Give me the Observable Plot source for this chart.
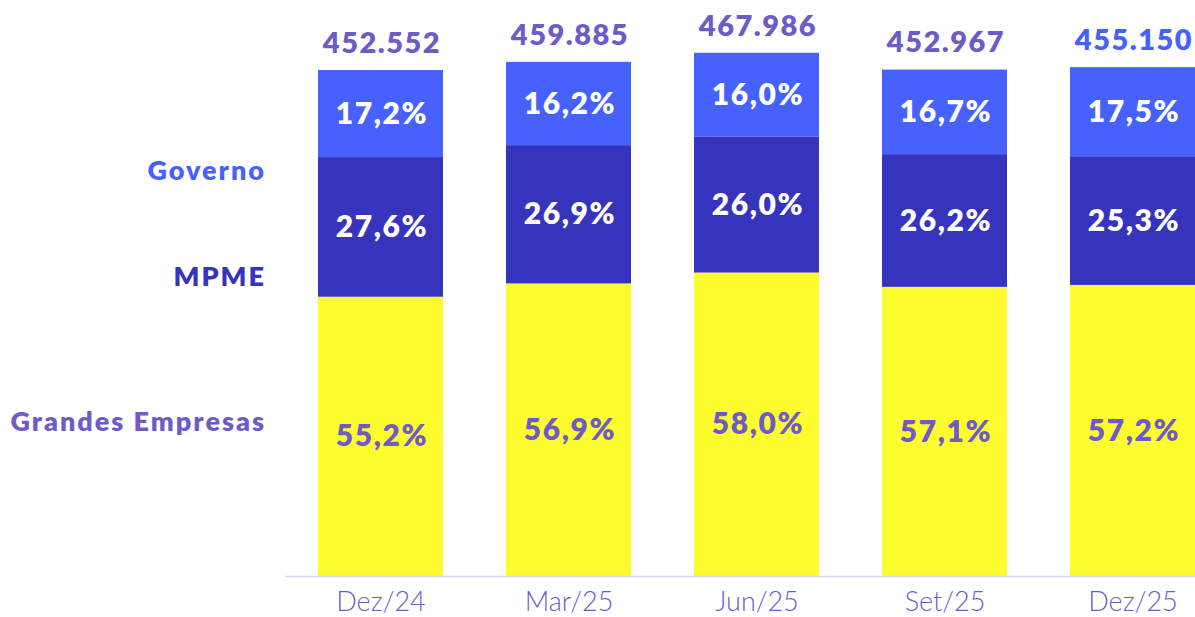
<!DOCTYPE html>
<html>
<head>
<meta charset="utf-8">
<script src="https://cdn.jsdelivr.net/npm/d3@7"></script>
<script src="https://cdn.jsdelivr.net/npm/@observablehq/plot@0.6"></script>
<style>
  html, body { margin: 0; padding: 0; background: #fff; overflow: hidden; }
  #chart { width: 1195px; height: 617px; overflow: hidden; }
  #chart svg { overflow: hidden; }
</style>
</head>
<body>
<div id="chart"></div>
<script>
const periods = ["Dez/24", "Mar/25", "Jun/25", "Set/25", "Dez/25"];
const totals = [452552, 459885, 467986, 452967, 455150];
const segments = ["Grandes Empresas", "MPME", "Governo"];
const pctGrandes = [55.2, 56.9, 58.0, 57.1, 57.2];
const pctMPME = [27.6, 26.9, 26.0, 26.2, 25.3];
const pctGoverno = [17.2, 16.2, 16.0, 16.7, 17.5];

const colors = { "Grandes Empresas": "#FCFC2E", "MPME": "#3634BC", "Governo": "#4761FF" };
const labelColors = { "Grandes Empresas": "#6F5BC8", "MPME": "#ffffff", "Governo": "#ffffff" };
const legendColors = { "Grandes Empresas": "#6F5BC8", "MPME": "#3634BC", "Governo": "#4761FF" };
const purple = "#6F5BC8";
const font = "Lato, 'Open Sans', sans-serif";

const pctBySeg = { "Grandes Empresas": pctGrandes, "MPME": pctMPME, "Governo": pctGoverno };
const fmtPct = v => v.toFixed(1).replace(".", ",") + "%";
const fmtTot = v => d3.format(",")(v).replace(/,/g, ".");

const rows = [];
periods.forEach((p, i) => {
  let base = 0;
  segments.forEach(s => {
    const v = totals[i] * pctBySeg[s][i] / 100;
    rows.push({ period: p, segment: s, value: v, pct: pctBySeg[s][i], y1: base, y2: base + v, idx: i });
    base += v;
  });
});
const totalRows = periods.map((p, i) => ({ period: p, total: totals[i], last: i === periods.length - 1 }));

// legend labels beside the first bar, offset from that bar's segment middles
const legendOffsets = { "Governo": 57, "MPME": 50, "Grandes Empresas": -14 };
const legendMarks = segments.map(s => Plot.text(rows.filter(r => r.idx === 0 && r.segment === s), {
  x: "period", y: d => (d.y1 + d.y2) / 2, text: "segment",
  dx: -115, dy: legendOffsets[s], textAnchor: "end",
  fill: legendColors[s], fontSize: 27, fontWeight: 800
}));

const plot = Plot.plot({
  width: 1195,
  height: 617,
  marginLeft: 285,
  marginRight: 0,
  marginTop: 0,
  marginBottom: 41,
  style: { fontFamily: font, background: "#fff" },
  x: { domain: periods, range: [285.5, 1228], paddingInner: 1/3, paddingOuter: 1/6, label: null },
  y: { domain: [0, 515200], axis: null },
  marks: [
    Plot.rectY(rows, { x: "period", y1: "y1", y2: "y2", fill: d => colors[d.segment] }),
    Plot.ruleY([0], { stroke: "#D8D2F7", strokeWidth: 1.5 }),
    Plot.text(rows, {
      x: "period", y: d => (d.y1 + d.y2) / 2, text: d => fmtPct(d.pct), dx: 1,
      fill: d => labelColors[d.segment], fontSize: 30, fontWeight: 800
    }),
    Plot.text(totalRows, {
      x: "period", y: "total", text: d => fmtTot(d.total), dy: -27, dx: 1,
      fill: d => d.last ? "#4761FF" : purple, fontSize: 29, fontWeight: 800
    }),
    ...legendMarks,
    Plot.axisX({ tickSize: 0, tickPadding: 15, fontSize: 27, fontWeight: 300, color: purple, label: null })
  ]
});
// widen the bold labels' tracking to match the reference's wide typeface
d3.select(plot).selectAll("g[aria-label='text']").each(function () {
  const fs = +this.getAttribute("font-size");
  const ls = fs === 30 ? 1.6 : fs === 29 ? 1.5 : fs === 27 ? 2 : 0;
  if (ls) this.setAttribute("letter-spacing", ls);
});
document.getElementById("chart").appendChild(plot);
</script>
</body>
</html>
